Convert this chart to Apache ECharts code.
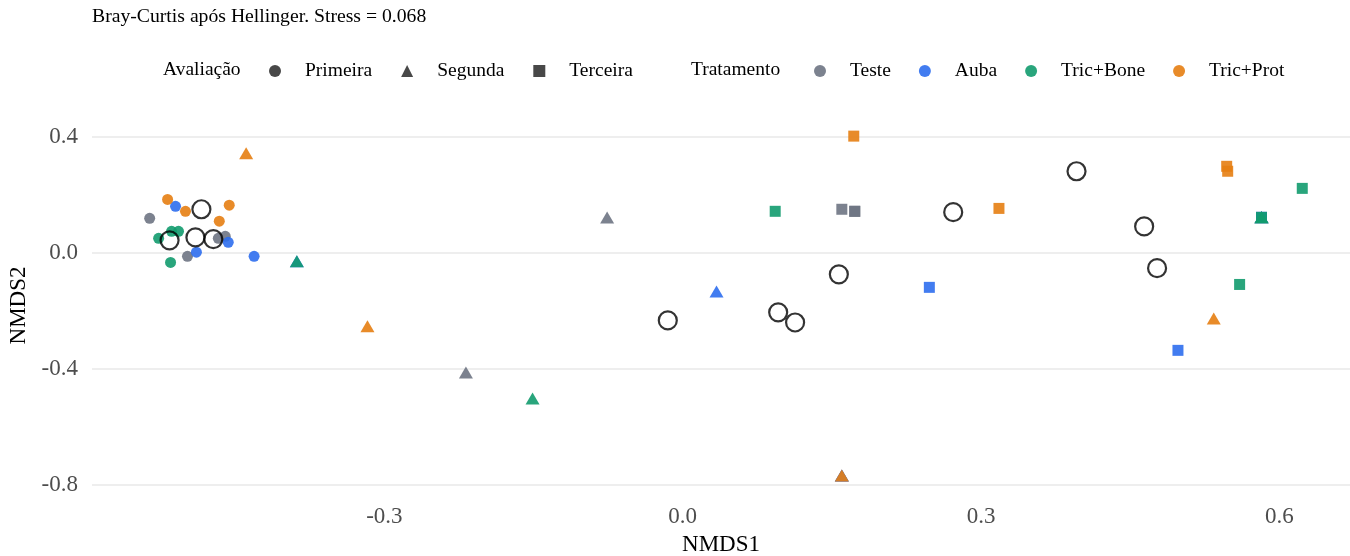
<!DOCTYPE html>
<html>
<head>
<meta charset="utf-8">
<script src="https://cdn.jsdelivr.net/npm/echarts@6/dist/echarts.min.js"></script>
<style>
  html, body { margin: 0; padding: 0; background: #ffffff; }
  #chart { width: 1350px; height: 556px; }
</style>
</head>
<body>
<div id="chart"></div>
<script>
// NMDS ordination (Bray-Curtis on Hellinger-transformed data), scores as [NMDS1, NMDS2]
const treatments = ['Teste', 'Auba', 'Tric+Bone', 'Tric+Prot'];
const evaluations = ['Primeira', 'Segunda', 'Terceira'];
const xTicks = [-0.3, 0.0, 0.3, 0.6];
const yTicks = [-0.8, -0.4, 0.0, 0.4];

// First evaluation (circles)
const primeira = {
  'Teste':     [[-0.536, 0.119], [-0.460, 0.057], [-0.498, -0.012], [-0.467, 0.050]],
  'Auba':      [[-0.510, 0.160], [-0.457, 0.036], [-0.489, 0.002], [-0.431, -0.012]],
  'Tric+Bone': [[-0.527, 0.050], [-0.514, 0.074], [-0.507, 0.074], [-0.515, -0.033]],
  'Tric+Prot': [[-0.518, 0.184], [-0.500, 0.143], [-0.456, 0.164], [-0.466, 0.109]]
};
// Second evaluation (triangles)
const segunda = {
  'Teste':     [[-0.076, 0.115], [-0.218, -0.419], [0.160, -0.774], [0.582, 0.116]],
  'Auba':      [[0.034, -0.140], [-0.388, -0.036], [0.160, -0.774], [0.582, 0.116]],
  'Tric+Bone': [[-0.388, -0.036], [-0.151, -0.509], [0.582, 0.116], [0.582, 0.116]],
  'Tric+Prot': [[-0.439, 0.336], [-0.317, -0.260], [0.160, -0.774], [0.534, -0.233]]
};
// Third evaluation (squares)
const terceira = {
  'Teste':     [[0.160, 0.150], [0.173, 0.143], [0.173, 0.143], [0.582, 0.122]],
  'Auba':      [[0.248, -0.119], [0.498, -0.336], [0.582, 0.122], [0.582, 0.122]],
  'Tric+Bone': [[0.093, 0.143], [0.623, 0.222], [0.560, -0.109], [0.582, 0.122]],
  'Tric+Prot': [[0.172, 0.402], [0.318, 0.153], [0.547, 0.298], [0.548, 0.281]]
};
// Group centroids (treatment x evaluation)
const centroids = [
  [-0.484, 0.150], [-0.516, 0.043], [-0.490, 0.053], [-0.472, 0.047],
  [-0.015, -0.233], [0.096, -0.205], [0.113, -0.240], [0.157, -0.074],
  [0.272, 0.140], [0.396, 0.281], [0.464, 0.091], [0.477, -0.053]
];

const treatmentColors = {
  'Teste': '#6e7483',
  'Auba': '#2d6eee',
  'Tric+Bone': '#129b6e',
  'Tric+Prot': '#e57e12'
};
const evaluationSymbols = { 'Primeira': 'circle', 'Segunda': 'triangle', 'Terceira': 'rect' };
const evaluationData = { 'Primeira': primeira, 'Segunda': segunda, 'Terceira': terceira };
const symbolSizes = { 'Primeira': 11, 'Segunda': [14, 12], 'Terceira': 11 };

const FONT = '"Liberation Serif", "DejaVu Serif", serif';

const series = [];
treatments.forEach(function (t) {
  const data = [];
  evaluations.forEach(function (e) {
    evaluationData[e][t].forEach(function (p) {
      data.push({
        value: p,
        symbol: evaluationSymbols[e],
        symbolSize: symbolSizes[e],
        symbolOffset: e === 'Segunda' ? [0, -2] : [0, 0]
      });
    });
  });
  series.push({
    name: t,
    type: 'scatter',
    data: data,
    itemStyle: { color: treatmentColors[t], opacity: 0.9 },
    emphasis: { disabled: true }
  });
});

// Legend-only entries for the evaluation shapes
evaluations.forEach(function (e) {
  series.push({
    name: e,
    type: 'scatter',
    symbol: evaluationSymbols[e],
    data: [],
    itemStyle: { color: '#1a1a1a' }
  });
});

series.push({
  name: 'Centróide',
  type: 'scatter',
  data: centroids,
  symbol: 'circle',
  symbolSize: 18,
  itemStyle: { color: 'rgba(0,0,0,0)', borderColor: '#000000', borderWidth: 2.2 },
  emphasis: { disabled: true },
  z: 5
});

const legendText = { fontFamily: FONT, fontSize: 19.5, color: '#000000', padding: [0, 0, 0, 19] };

const option = {
  backgroundColor: '#ffffff',
  animation: false,
  textStyle: { fontFamily: FONT },
  title: {
    text: 'Bray-Curtis após Hellinger. Stress = 0.068',
    left: 92, top: 7, padding: 0,
    textStyle: { fontFamily: FONT, fontSize: 19.7, fontWeight: 'normal', color: '#000000' }
  },
  graphic: [
    { type: 'text', left: 163, top: 60, style: { text: 'Avaliação', font: '19.5px ' + FONT, fill: '#000000' } },
    { type: 'text', left: 691, top: 60, style: { text: 'Tratamento', font: '19.5px ' + FONT, fill: '#000000' } }
  ],
  legend: [
    {
      left: 264, top: 56,
      itemWidth: 12, itemHeight: 12, itemGap: 29,
      data: [
        { name: 'Primeira', icon: 'circle' },
        { name: 'Segunda', icon: 'triangle' },
        { name: 'Terceira', icon: 'rect' }
      ],
      textStyle: legendText,
      selectedMode: false
    },
    {
      left: 809, top: 56,
      itemWidth: 12, itemHeight: 12, itemGap: 28,
      data: treatments.map(function (t) { return { name: t, icon: 'circle' }; }),
      textStyle: legendText,
      selectedMode: false
    }
  ],
  grid: { left: 92, right: 0, top: 119, bottom: 64, outerBoundsMode: 'none' },
  xAxis: {
    type: 'value',
    min: -0.594, max: 0.671,
    name: 'NMDS1', nameLocation: 'middle', nameGap: 41,
    nameTextStyle: { fontFamily: FONT, fontSize: 23, color: '#000000' },
    axisLine: { show: false },
    axisTick: { show: false, customValues: xTicks },
    splitLine: { show: false },
    axisLabel: {
      customValues: xTicks, margin: 13,
      fontFamily: FONT, fontSize: 23, color: '#4d4d4d',
      formatter: function (v) { return v.toFixed(1); }
    }
  },
  yAxis: {
    type: 'value',
    min: -0.824, max: 0.461,
    name: 'NMDS2', nameLocation: 'middle', nameGap: 53, nameRotate: 90,
    nameTextStyle: { fontFamily: FONT, fontSize: 23, color: '#000000' },
    axisLine: { show: false },
    axisTick: { show: false, customValues: yTicks },
    splitLine: { show: true, lineStyle: { color: '#e8e8e8', width: 1.5 } },
    axisLabel: {
      customValues: yTicks, margin: 14,
      fontFamily: FONT, fontSize: 23, color: '#4d4d4d',
      formatter: function (v) { return v.toFixed(1); }
    }
  },
  series: series
};

const chart = echarts.init(document.getElementById('chart'), null, { renderer: 'canvas' });
chart.setOption(option);
</script>
</body>
</html>
